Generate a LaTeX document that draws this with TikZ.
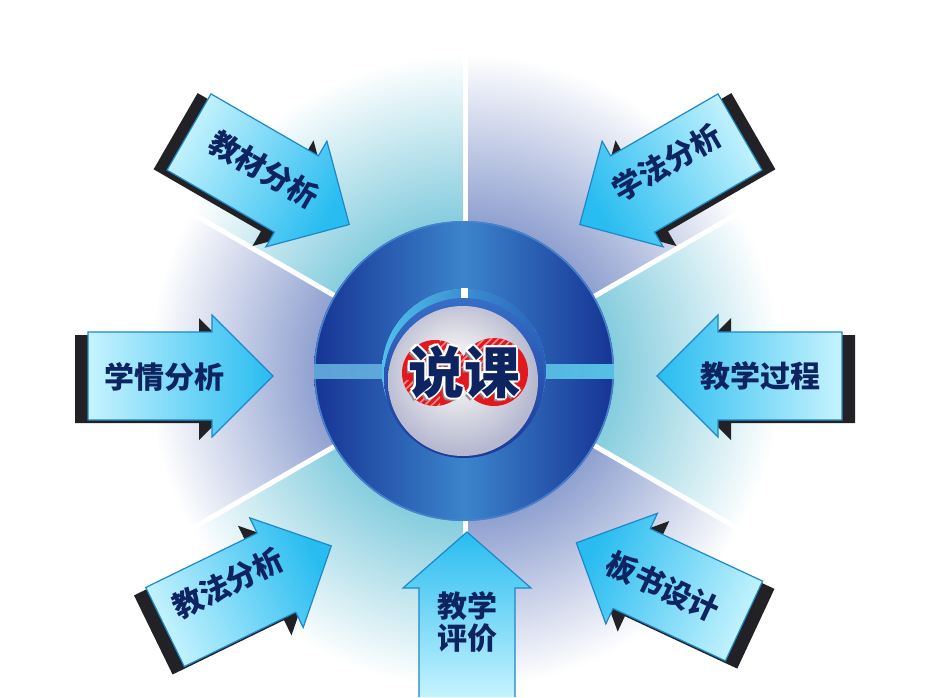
\documentclass[tikz,border=0pt]{standalone}
\usepackage{fontspec}
\newfontfamily\cjk{Noto Sans CJK SC}
\definecolor{secTeal}{RGB}{112,196,216}
\definecolor{secGray}{RGB}{124,144,200}
\definecolor{ringDark}{RGB}{22,52,148}
\definecolor{ringLight}{RGB}{60,132,204}
\definecolor{ringEdge}{RGB}{70,130,205}
\definecolor{bandL}{RGB}{95,160,215}
\definecolor{bandR}{RGB}{85,192,230}
\definecolor{holeCyan}{RGB}{80,192,235}
\definecolor{holeBlue}{RGB}{40,95,185}
\definecolor{rimTop}{RGB}{55,110,200}
\definecolor{rimBot}{RGB}{28,58,150}
\definecolor{discMid}{RGB}{222,222,230}
\definecolor{discEdge}{RGB}{182,184,208}
\definecolor{redc}{RGB}{226,24,28}
\definecolor{stripec}{RGB}{250,170,170}
\definecolor{navy}{RGB}{14,36,96}
\definecolor{arrLight}{RGB}{198,243,254}
\definecolor{arrSat}{RGB}{40,188,240}
\definecolor{arrEdge}{RGB}{30,135,200}
\definecolor{shadowc}{RGB}{34,34,38}
\definecolor{txtshadow}{RGB}{140,140,150}
\pgfdeclareradialshading{fadeteal}{\pgfpoint{0bp}{0bp}}{color(0bp)=(secTeal); color(9bp)=(secTeal); color(24bp)=(white); color(50bp)=(white)}
\pgfdeclareradialshading{fadegray}{\pgfpoint{0bp}{0bp}}{color(0bp)=(secGray); color(9bp)=(secGray); color(24bp)=(white); color(50bp)=(white)}
\pgfdeclareradialshading{discshade}{\pgfpoint{-3bp}{5bp}}{color(0bp)=(white); color(13bp)=(discMid); color(26bp)=(discEdge); color(50bp)=(discEdge)}
\tikzset{
  divider/.style={white, line width=5pt},
  lbl/.style={font=\cjk\bfseries\fontsize{30}{32}\selectfont, text=navy, inner sep=0pt},
  bigtxt/.style={font=\cjk\bfseries\fontsize{56}{56}\selectfont, inner sep=0pt},
  arrowbody/.style={top color=arrSat, bottom color=arrLight, shading angle=#1, draw=arrEdge, line width=1.2pt},
  arrowshadow/.style={fill=shadowc},
  stripe/.style={stripec, line width=1.6pt, opacity=0.8},
}
\newcommand\arrowshape[1]{\path[#1] (0,-44) -- (124,-44) -- (124,-61) -- (185,0) -- (124,61) -- (124,44) -- (0,44) -- cycle;}
\newcommand\blockarrow[5]{%
  \begin{scope}[shift={(#1,#2)}, rotate=#3]
    \begin{scope}[shift={(#4,#5)}]\arrowshape{arrowshadow}\end{scope}
    \pgfmathsetmacro\shang{#3-90}
    \arrowshape{arrowbody=\shang}
  \end{scope}}
\begin{document}
\begin{tikzpicture}[x=1pt,y=-1pt]
\useasboundingbox (0,0) rectangle (930,697);
\coordinate (c) at (465,371);
% background sectors
\begin{scope}\clip (c) -- (828.7,161) -- (465,-49) -- cycle; \shade[shading=fadegray] (c) circle (330); \end{scope}
\begin{scope}\clip (c) -- (465,-49) -- (101.3,161) -- cycle; \shade[shading=fadeteal] (c) circle (330); \end{scope}
\begin{scope}\clip (c) -- (101.3,161) -- (101.3,581) -- cycle; \shade[shading=fadegray] (c) circle (330); \end{scope}
\begin{scope}\clip (c) -- (101.3,581) -- (465,791) -- cycle; \shade[shading=fadeteal] (c) circle (330); \end{scope}
\begin{scope}\clip (c) -- (465,791) -- (828.7,581) -- cycle; \shade[shading=fadegray] (c) circle (330); \end{scope}
\begin{scope}\clip (c) -- (828.7,581) -- (828.7,161) -- cycle; \shade[shading=fadeteal] (c) circle (330); \end{scope}
% divider lines
\coordinate (d1) at (465,-49);
\coordinate (d2) at (101.3,161);
\coordinate (d3) at (101.3,581);
\coordinate (d4) at (465,791);
\coordinate (d5) at (828.7,581);
\coordinate (d6) at (828.7,161);
\foreach \d in {d1,d2,d3,d4,d5,d6} \draw[divider] (c) -- (\d);
% ring
\coordinate (rc) at (464,371);
\begin{scope}
  \clip (300,200) rectangle (630,364);
  \shade[left color=ringDark, right color=ringDark, middle color=ringLight, even odd rule] (rc) circle (150) (rc) circle (82);
  \draw[ringEdge, line width=1.5pt] (rc) circle (149.2);
\end{scope}
\begin{scope}
  \clip (300,378) rectangle (630,540);
  \shade[left color=ringDark, right color=ringDark, middle color=ringLight, even odd rule] (rc) circle (150) (rc) circle (82);
  \draw[ringEdge, line width=1.5pt] (rc) circle (149.2);
\end{scope}
\begin{scope}[even odd rule]
  \clip (rc) circle (150) (rc) circle (82);
  \shade[left color=bandL, right color=bandR] (300,364) rectangle (630,378);
\end{scope}
% hole
\shade[left color=holeCyan, right color=holeBlue] (rc) circle (82);
\fill[white] (461,288) rectangle (468,302);
% inner disc
\shade[top color=rimTop, bottom color=rimBot] (464,378) circle (80);
\shade[shading=discshade] (463,381) circle (75);
% red circles
\fill[redc] (435,373) circle (33);
\fill[redc] (494,372) circle (34);
\begin{scope}
  \clip (435,373) circle (33) (494,372) circle (34);
  \clip (440,330) rectangle (515,368) (398,380) rectangle (440,410);
  \foreach \k in {0,...,22} \draw[stripe] (330+\k*7,430) -- (440+\k*7,320);
\end{scope}
% title text
\node[bigtxt, text=txtshadow] (ts) at (461,375) {说课};
\foreach \dx/\dy [count=\i] in {-2/0,2/0,0/-2,0/2,-1.5/-1.5,1.5/-1.5,-1.5/1.5,1.5/1.5}
  \node[bigtxt, text=white] (tw\i) at (464+\dx,372+\dy) {说课};
\node[bigtxt, text=navy] (title) at (464,372) {说课};
% arrows
\blockarrow{88}{376}{0}{-13}{3}
\blockarrow{842}{376}{180}{-13}{-3}
\blockarrow{189}{132}{-30}{-12}{6}
\blockarrow{740}{132}{-150}{-12}{-6}
\blockarrow{165}{627}{26}{-14}{2}
\blockarrow{744}{621}{155}{-14}{-2}
\shade[top color=arrSat, bottom color=arrLight] (419,697) -- (419,588) -- (403,588) -- (467,532) -- (531,588) -- (515,588) -- (515,697) -- cycle;
\draw[arrEdge, line width=1.2pt] (419,697) -- (419,588) -- (403,588) -- (467,532) -- (531,588) -- (515,588) -- (515,697);
% labels
\node[lbl] (xq) at (164,377) {学情分析};
\node[lbl] (gc) at (760,376) {教学过程};
\node[lbl, rotate=-30] (jc) at (264,170) {教材分析};
\node[lbl, rotate=30] (xf) at (667,163) {学法分析};
\node[lbl, rotate=26] (jf) at (228,583) {教法分析};
\node[lbl, rotate=-25] (bs) at (663,587) {板书设计};
\node[lbl, align=center] (pj) at (467,622) {教学\\评价};
\end{tikzpicture}
\end{document}
